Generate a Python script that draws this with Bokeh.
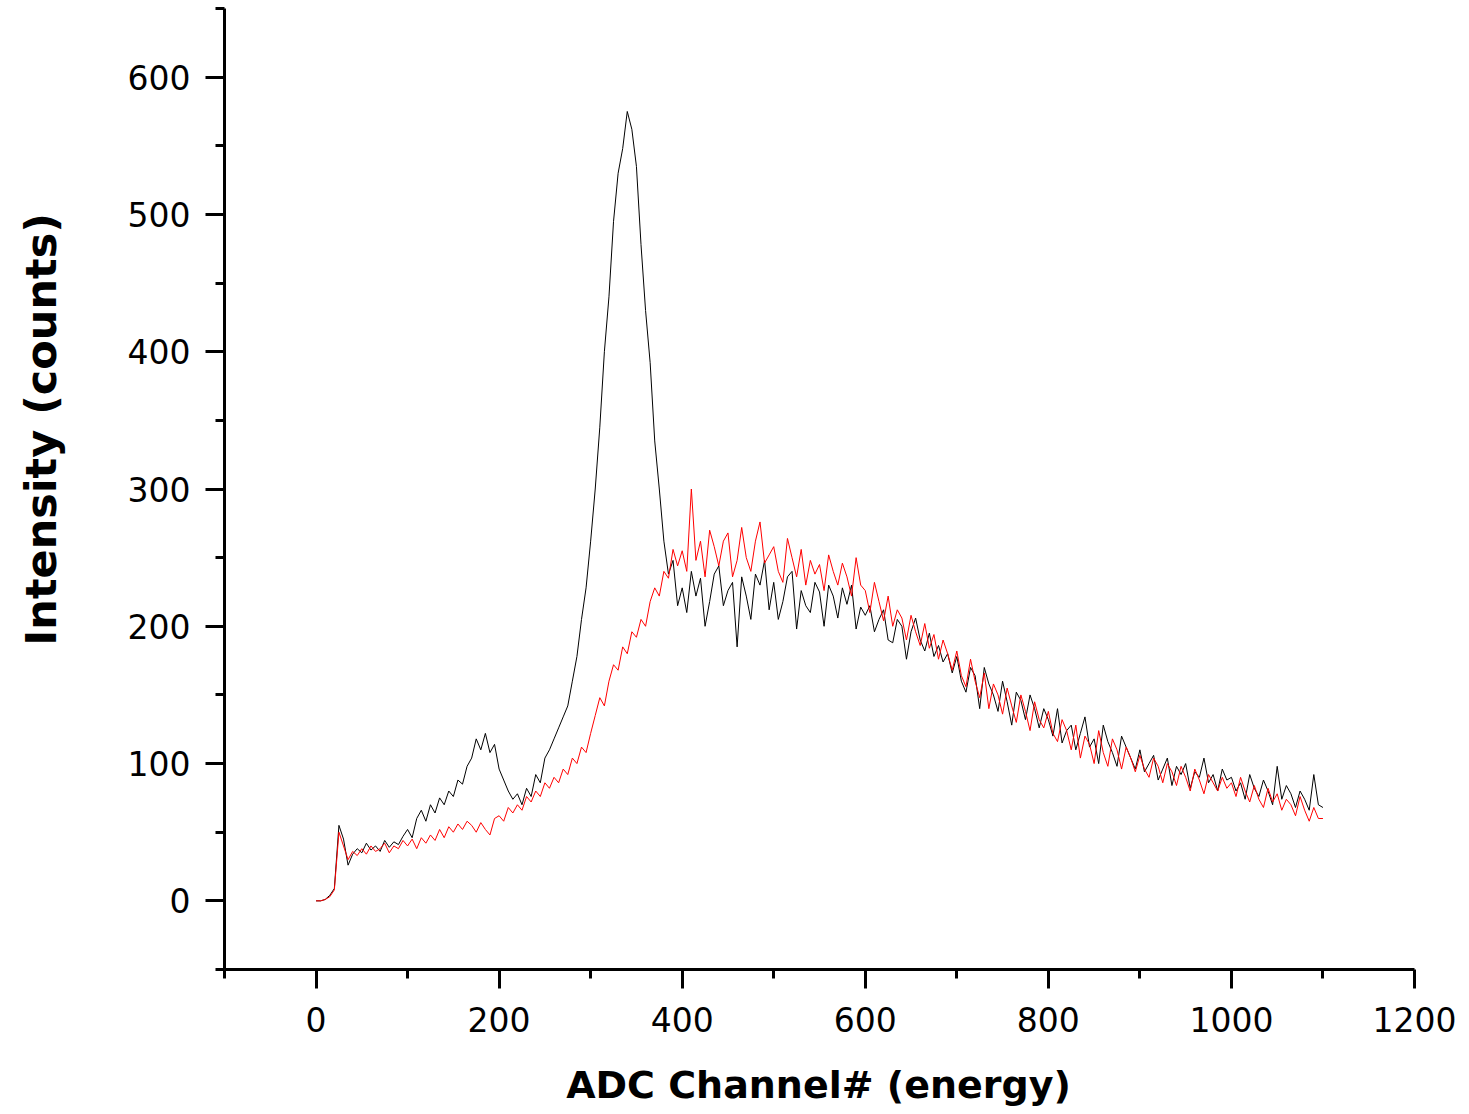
import math
from bokeh.plotting import figure
from bokeh.layouts import row, column
from bokeh.models import FixedTicker, Range1d
from bokeh.core.properties import value
from bokeh.embed import file_html
from bokeh.resources import INLINE

# ADC channels (every 5th channel)
channels = list(range(0, 1101, 5))

# Black spectrum (counts)
black_counts = [
    0, 0, 1, 4, 9, 55, 45, 26, 34, 38, 35, 42, 37, 40, 36, 44, 39, 43, 41, 47,
    52, 46, 60, 66, 58, 70, 64, 75, 70, 80, 76, 88, 85, 98, 104, 118, 110, 122, 108, 114,
    96, 88, 80, 74, 78, 70, 82, 76, 92, 86, 104, 110, 118, 126, 134, 142, 160, 178, 205, 228,
    262, 300, 345, 400, 440, 495, 530, 548, 575, 562, 535, 478, 430, 392, 335, 300, 262, 238, 248, 215,
    228, 210, 240, 222, 235, 200, 218, 238, 244, 215, 226, 232, 185, 236, 222, 205, 238, 230, 248, 212,
    232, 205, 218, 236, 240, 198, 226, 215, 210, 232, 225, 200, 230, 222, 206, 228, 216, 230, 198, 214,
    208, 215, 196, 205, 212, 190, 188, 205, 200, 176, 196, 206, 190, 182, 195, 178, 186, 174, 180, 166,
    178, 160, 152, 170, 164, 140, 170, 158, 150, 138, 160, 145, 128, 152, 146, 132, 150, 140, 126, 140,
    132, 120, 140, 115, 124, 128, 110, 122, 134, 112, 118, 100, 128, 116, 108, 98, 120, 112, 104, 96,
    110, 94, 100, 106, 88, 96, 104, 84, 98, 92, 100, 82, 94, 90, 104, 86, 92, 80, 96, 88,
    90, 80, 86, 74, 92, 82, 76, 88, 80, 70, 98, 74, 84, 78, 68, 80, 74, 66, 92, 70,
    68,
]

# Red spectrum (counts)
red_counts = [
    0, 0, 1, 3, 8, 50, 40, 30, 36, 33, 38, 34, 40, 36, 38, 42, 35, 40, 38, 44,
    40, 45, 38, 46, 42, 48, 44, 52, 46, 54, 50, 56, 52, 58, 55, 50, 57, 52, 48, 60,
    62, 58, 68, 64, 70, 66, 76, 72, 80, 76, 86, 82, 90, 86, 96, 92, 104, 100, 112, 108,
    122, 135, 148, 142, 160, 172, 168, 185, 180, 196, 192, 205, 200, 218, 228, 222, 240, 235, 256, 244,
    255, 240, 300, 248, 262, 236, 270, 258, 244, 262, 268, 236, 248, 272, 250, 240, 262, 276, 246, 252,
    258, 240, 232, 264, 250, 236, 256, 230, 248, 238, 245, 226, 252, 240, 230, 246, 236, 222, 250, 230,
    226, 210, 232, 218, 204, 222, 200, 212, 206, 190, 208, 196, 186, 202, 184, 194, 176, 190, 180, 168,
    182, 164, 156, 176, 160, 148, 166, 140, 158, 150, 136, 155, 142, 130, 150, 138, 124, 145, 132, 126,
    138, 122, 116, 132, 124, 110, 128, 104, 120, 114, 100, 124, 108, 98, 118, 110, 96, 112, 104, 94,
    106, 96, 90, 104, 98, 86, 100, 94, 84, 98, 90, 80, 96, 88, 78, 92, 86, 80, 90, 82,
    86, 76, 90, 80, 72, 84, 74, 68, 82, 72, 78, 66, 74, 70, 62, 76, 66, 58, 68, 60,
    60,
]

x_major_ticks = [0, 200, 400, 600, 800, 1000, 1200]
x_minor_ticks = [-100, 100, 300, 500, 700, 900, 1100]
y_major_ticks = [0, 100, 200, 300, 400, 500, 600]
y_minor_ticks = [-50, 50, 150, 250, 350, 450, 550, 650]

x_title = "ADC Channel# (energy)"
y_title = "Intensity (counts)"

TITLE_W = 80     # strip on the left holding the y title
TITLE_H = 50     # strip at the bottom holding the x title
TOTAL_W, TOTAL_H = 1469, 1114
MAIN_W = TOTAL_W - TITLE_W
MAIN_H = TOTAL_H - TITLE_H

p = figure(
    width=MAIN_W, height=MAIN_H,
    output_backend="svg", toolbar_location=None,
    x_range=Range1d(-100, 1200), y_range=Range1d(-50, 650),
    min_border_left=224 - TITLE_W, min_border_right=55,
    min_border_top=8, min_border_bottom=MAIN_H - 969,
)
p.outline_line_color = None
p.grid.visible = False
p.background_fill_color = "white"
p.border_fill_color = "white"

p.line(channels, black_counts, line_color="black", line_width=1)
p.line(channels, red_counts, line_color="#ff0000", line_width=1)

for ax in (p.xaxis[0], p.yaxis[0]):
    ax.axis_line_width = 3
    ax.axis_line_color = "black"
    ax.major_tick_line_width = 3
    ax.minor_tick_line_width = 3
    ax.major_tick_out = 19
    ax.major_tick_in = 0
    ax.minor_tick_out = 9
    ax.minor_tick_in = 0
    ax.major_label_text_font = "DejaVu Sans"
    ax.major_label_text_font_size = "33px"
    ax.major_label_text_color = "black"

p.xaxis.ticker = FixedTicker(ticks=x_major_ticks, minor_ticks=x_minor_ticks)
p.yaxis.ticker = FixedTicker(ticks=y_major_ticks, minor_ticks=y_minor_ticks)
p.xaxis.major_label_standoff = 18
p.yaxis.major_label_standoff = 15

# y-axis title strip (left)
ty = figure(
    width=TITLE_W, height=MAIN_H, output_backend="svg", toolbar_location=None,
    x_range=Range1d(0, TITLE_W), y_range=Range1d(0, MAIN_H),
    x_axis_location=None, y_axis_location=None, min_border=0,
)
ty.outline_line_color = None
ty.grid.visible = False
ty.text(
    x=[40], y=[MAIN_H - 466], text=[y_title], angle=math.pi / 2,
    text_font=value("DejaVu Sans"), text_font_style="bold", text_font_size="43px",
    text_align="center", text_baseline="middle", text_color="black",
)

# x-axis title strip (bottom)
tx = figure(
    width=TOTAL_W, height=TITLE_H, output_backend="svg", toolbar_location=None,
    x_range=Range1d(0, TOTAL_W), y_range=Range1d(0, TITLE_H),
    x_axis_location=None, y_axis_location=None, min_border=0,
)
tx.outline_line_color = None
tx.grid.visible = False
tx.text(
    x=[818], y=[TOTAL_H - 1084], text=[x_title],
    text_font=value("DejaVu Sans"), text_font_style="bold", text_font_size="38px",
    text_align="center", text_baseline="middle", text_color="black",
)

layout = column(row(ty, p, spacing=0), tx, spacing=0)
open("out.html", "w").write(file_html(layout, INLINE))
